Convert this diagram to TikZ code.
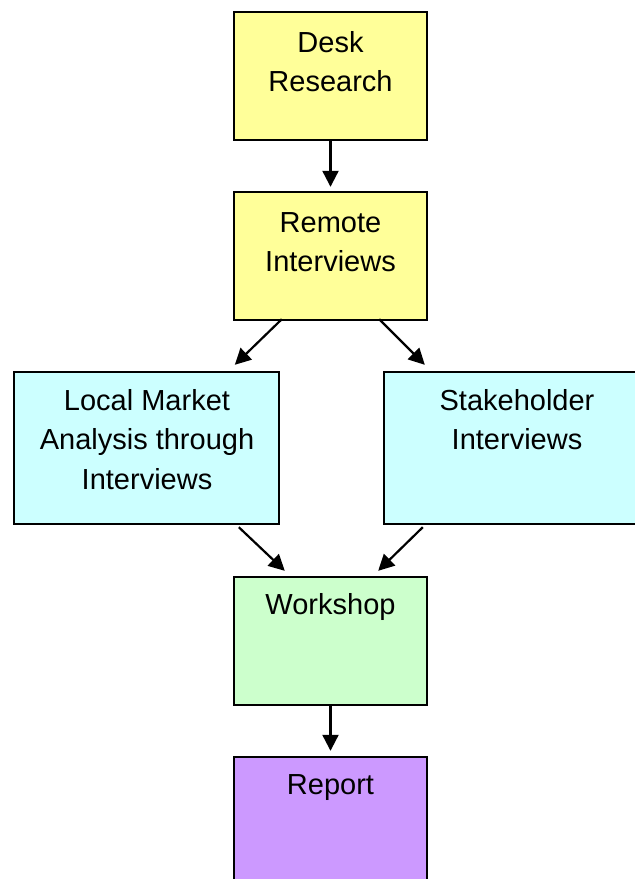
\documentclass[tikz,border=0pt]{standalone}
\usepackage{fontspec}
\setmainfont{Liberation Sans}
\usetikzlibrary{arrows.meta}
\definecolor{cyel}{HTML}{FFFF99}
\definecolor{ccyan}{HTML}{CCFFFF}
\definecolor{cgreen}{HTML}{CCFFCC}
\definecolor{cpurp}{HTML}{CC99FF}
\tikzset{
  box/.style={draw=black, line width=2.4pt, rectangle, inner sep=0pt},
  txt/.style={font=\fontsize{29}{39.5}\selectfont, align=center, anchor=base, inner sep=0pt, text=black},
  conn/.style={-{Triangle[length=16pt,width=16pt]}, line width=2.2pt, black},
}
\begin{document}
\begin{tikzpicture}[x=1pt,y=-1pt]
\useasboundingbox (0,0) rectangle (635,879);
\clip (0,0) rectangle (635,879);
\fill[white] (0,0) rectangle (635,879);
% boxes
\node[box, fill=cyel, minimum width=193pt, minimum height=128pt] (desk) at (330.5,76) {};
\node[box, fill=cyel, minimum width=193pt, minimum height=128pt] (remote) at (330.5,256) {};
\node[box, fill=ccyan, minimum width=265pt, minimum height=152pt] (local) at (146.5,448) {};
\node[box, fill=ccyan, minimum width=266pt, minimum height=152pt] (stake) at (517,448) {};
\node[box, fill=cgreen, minimum width=193pt, minimum height=128pt] (work) at (330.5,641) {};
\node[box, fill=cpurp, minimum width=193pt, minimum height=150pt] (report) at (330.5,832) {};
% texts (anchor = baseline of last line)
\node[txt] (deskt) at (330.5,91.5) {Desk\\Research};
\node[txt] (remotet) at (330.5,271.5) {Remote\\Interviews};
\node[txt] (localt) at (147,489) {Local Market\\Analysis through\\Interviews};
\node[txt] (staket) at (517,449.5) {Stakeholder\\Interviews};
\node[txt] (workt) at (330.5,614) {Workshop};
\node[txt] (reportt) at (330.5,794) {Report};
% connectors
\draw[conn] (desk.south) -- ([yshift=4pt]remote.north);
\draw[conn] ([xshift=49pt,yshift=2pt]remote.south west) -- ([xshift=222pt,yshift=6pt]local.north west);
\draw[conn] ([xshift=-49pt,yshift=2pt]remote.south east) -- ([xshift=42pt,yshift=6pt]stake.north west);
\draw[conn] ([xshift=226pt,yshift=-2pt]local.south west) -- ([xshift=52pt,yshift=5pt]work.north west);
\draw[conn] ([xshift=40pt,yshift=-2pt]stake.south west) -- ([xshift=-50pt,yshift=5pt]work.north east);
\draw[conn] (work.south) -- ([yshift=5pt]report.north);
\end{tikzpicture}
\end{document}
